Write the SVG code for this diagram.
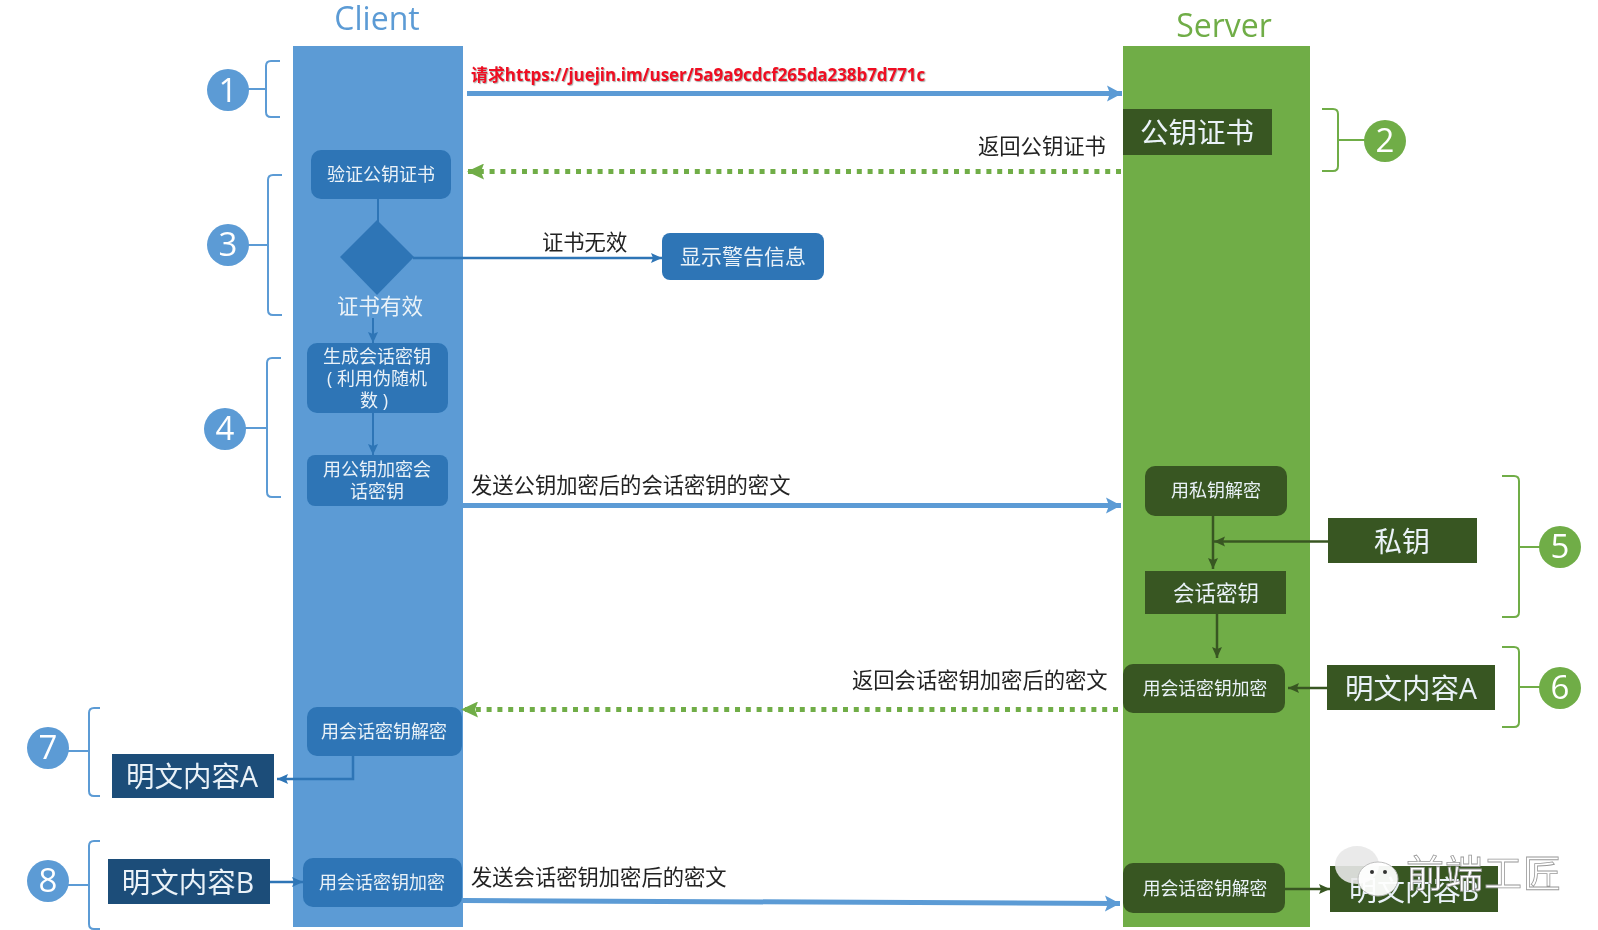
<svg xmlns="http://www.w3.org/2000/svg" width="1598" height="930" viewBox="0 0 1598 930">
<style>
text{font-family:"Open Sans","Noto Sans CJK SC",sans-serif;text-anchor:middle}
.w{fill:#eaf2f8}.k{fill:#222;text-anchor:start;font-size:21.300px}
.bb{fill:#2e75b6}.nb{fill:#1f4e79}.ng{fill:#385723}
.br{fill:none;stroke-width:2}.bl{stroke:#5b9bd5}.gr{stroke:#70ad47}
.cb{fill:#5b9bd5}.cg{fill:#70ad47}.n{fill:#fff;font-size:33px}
.a{fill:none}
</style>
<defs>
<filter id="s" x="-2%" y="-2%" width="104%" height="104%"><feGaussianBlur stdDeviation="0.6"/></filter>
<marker id="mb" markerUnits="userSpaceOnUse" markerWidth="16" markerHeight="18" refX="15" refY="9" orient="auto"><path d="M0 1L15 9L0 17L3 9Z" fill="#5b9bd5"/></marker>
<marker id="md" markerUnits="userSpaceOnUse" markerWidth="12" markerHeight="12" refX="11" refY="6" orient="auto"><path d="M0 1L11 6L0 11L2 6Z" fill="#2e75b6"/></marker>
<marker id="mg" markerUnits="userSpaceOnUse" markerWidth="18" markerHeight="16" refX="17" refY="8" orient="auto"><path d="M0 0L17 8L0 16L3 8Z" fill="#70ad47"/></marker>
<marker id="mk" markerUnits="userSpaceOnUse" markerWidth="12" markerHeight="12" refX="11" refY="6" orient="auto"><path d="M0 1L11 6L0 11L2 6Z" fill="#385723"/></marker>
</defs>
<rect width="1598" height="930" fill="#fff"/>
<g filter="url(#s)">
<g id="client-lane"><rect x="293" y="46" width="170" height="881" fill="#5b9bd5"/><text x="377" y="30" font-size="32" fill="#5b9bd5">Client</text></g>
<g id="server-lane"><rect x="1123" y="46" width="187" height="881" fill="#70ad47"/><text x="1224" y="37" font-size="32" fill="#70ad47">Server</text></g>

<g id="connectors">
<path d="M467 93.500H1122" stroke="#5b9bd5" stroke-width="5" class="a" marker-end="url(#mb)"/>
<path d="M1121 171.500H467" stroke="#70ad47" stroke-width="5" stroke-dasharray="5 5.800" class="a" marker-end="url(#mg)"/>
<path d="M378 199V222" stroke="#2e75b6" stroke-width="2" class="a"/>
<path d="M413 258H662" stroke="#2e75b6" stroke-width="2.500" class="a" marker-end="url(#md)"/>
<path d="M373 318V343" stroke="#2e75b6" stroke-width="2" class="a" marker-end="url(#md)"/>
<path d="M373 413V455" stroke="#2e75b6" stroke-width="2" class="a" marker-end="url(#md)"/>
<path d="M463 505.500H1121" stroke="#5b9bd5" stroke-width="5" class="a" marker-end="url(#mb)"/>
<path d="M1213 516V569" stroke="#385723" stroke-width="2.500" class="a" marker-end="url(#mk)"/>
<path d="M1328 541.500H1214" stroke="#385723" stroke-width="2.500" class="a" marker-end="url(#mk)"/>
<path d="M1217 614V658" stroke="#385723" stroke-width="2.500" class="a" marker-end="url(#mk)"/>
<path d="M1327 688H1288" stroke="#385723" stroke-width="2.500" class="a" marker-end="url(#mk)"/>
<path d="M1118 709.500H461" stroke="#70ad47" stroke-width="5" stroke-dasharray="5 5.800" class="a" marker-end="url(#mg)"/>
<path d="M353 756V779H277" stroke="#2e75b6" stroke-width="2.500" class="a" marker-end="url(#md)"/>
<path d="M270 882H303" stroke="#2e75b6" stroke-width="2.500" class="a" marker-end="url(#md)"/>
<path d="M462 900.500L1120 903.500" stroke="#5b9bd5" stroke-width="5" class="a" marker-end="url(#mb)"/>
<path d="M1285 889H1330" stroke="#385723" stroke-width="2.500" class="a" marker-end="url(#mk)"/>
</g>

<g id="n1"><path class="br bl" d="M280 61H271Q266 61 266 66V112Q266 117 271 117H280M266 89H245"/><circle class="cb" cx="228" cy="90" r="21"/><text class="n" x="228" y="102">1</text></g>
<g id="n2"><path class="br gr" d="M1322 109H1333Q1338 109 1338 114V166Q1338 171 1333 171H1322M1338 140H1366"/><circle class="cg" cx="1385" cy="141" r="21"/><text class="n" x="1385" y="152">2</text></g>
<g id="n3"><path class="br bl" d="M282 175H273Q268 175 268 180V310Q268 315 273 315H282M268 245H245"/><circle class="cb" cx="228" cy="245" r="21"/><text class="n" x="228" y="256">3</text></g>
<g id="n4"><path class="br bl" d="M281 358H272Q267 358 267 363V492Q267 497 272 497H281M267 428H243"/><circle class="cb" cx="225" cy="429" r="21"/><text class="n" x="225" y="440">4</text></g>
<g id="n5"><path class="br gr" d="M1502 476H1514Q1519 476 1519 481V612Q1519 617 1514 617H1502M1519 547H1541"/><circle class="cg" cx="1560" cy="547" r="21"/><text class="n" x="1560" y="558">5</text></g>
<g id="n6"><path class="br gr" d="M1502 647H1514Q1519 647 1519 652V722Q1519 727 1514 727H1502M1519 687H1541"/><circle class="cg" cx="1560" cy="688" r="21"/><text class="n" x="1560" y="699">6</text></g>
<g id="n7"><path class="br bl" d="M100 708H94Q89 708 89 713V791Q89 796 94 796H100M89 751H67"/><circle class="cb" cx="48" cy="748" r="21"/><text class="n" x="48" y="759">7</text></g>
<g id="n8"><path class="br bl" d="M100 841H94Q89 841 89 846V924Q89 929 94 929H100M89 885H67"/><circle class="cb" cx="48" cy="881" r="21"/><text class="n" x="48" y="892">8</text></g>

<g id="verify-cert"><rect class="bb" x="311" y="150" width="140" height="49" rx="10"/><text class="w" x="381" y="181" font-size="18">验证公钥证书</text></g>
<g id="decision"><path class="bb" d="M377 220L414 257L377 295L340 257Z"/></g>
<g id="cert-valid"><text class="w" x="380" y="314" font-size="21.500">证书有效</text></g>
<g id="gen-key"><rect class="bb" x="307" y="343" width="141" height="70" rx="10"/><text class="w" x="377" y="363" font-size="18">生成会话密钥</text><text class="w" x="377" y="385" font-size="18">( 利用伪随机</text><text class="w" x="374" y="407" font-size="18">数 )</text></g>
<g id="encrypt-key"><rect class="bb" x="307" y="455" width="141" height="51" rx="8"/><text class="w" x="377" y="476" font-size="18">用公钥加密会</text><text class="w" x="377" y="498" font-size="18">话密钥</text></g>
<g id="warning"><rect class="bb" x="662" y="233" width="162" height="47" rx="8"/><text class="w" x="743" y="264" font-size="21">显示警告信息</text></g>
<g id="client-decrypt"><rect class="bb" x="307" y="707" width="155" height="49" rx="10"/><text class="w" x="384" y="738" font-size="18">用会话密钥解密</text></g>
<g id="client-encrypt"><rect class="bb" x="303" y="858" width="159" height="49" rx="10"/><text class="w" x="382" y="889" font-size="18">用会话密钥加密</text></g>
<g id="plain-a-client"><rect class="nb" x="112" y="754" width="162" height="44"/><text class="w" x="192" y="787" font-size="28.500">明文内容A</text></g>
<g id="plain-b-client"><rect class="nb" x="108" y="859" width="162" height="45"/><text class="w" x="188" y="893" font-size="28.500">明文内容B</text></g>

<g id="public-cert"><rect class="ng" x="1123" y="109" width="149" height="46"/><text class="w" x="1197" y="143" font-size="28.500">公钥证书</text></g>
<g id="private-decrypt"><rect class="ng" x="1145" y="466" width="142" height="50" rx="10"/><text class="w" x="1216" y="497" font-size="18">用私钥解密</text></g>
<g id="private-key"><rect class="ng" x="1328" y="518" width="149" height="45"/><text class="w" x="1402" y="552" font-size="28">私钥</text></g>
<g id="session-key"><rect class="ng" x="1145" y="571" width="141" height="43"/><text class="w" x="1216" y="601" font-size="21.500">会话密钥</text></g>
<g id="server-encrypt"><rect class="ng" x="1123" y="664" width="162" height="49" rx="10"/><text class="w" x="1205" y="695" font-size="17.800">用会话密钥加密</text></g>
<g id="plain-a-server"><rect class="ng" x="1327" y="665" width="168" height="45"/><text class="w" x="1411" y="699" font-size="28.500">明文内容A</text></g>
<g id="server-decrypt"><rect class="ng" x="1123" y="863" width="162" height="50" rx="10"/><text class="w" x="1205" y="895" font-size="17.800">用会话密钥解密</text></g>
<g id="plain-b-server"><rect class="ng" x="1330" y="866" width="168" height="46"/><text class="w" x="1414" y="901" font-size="28">明文内容B</text></g>

<g id="labels">
<text x="471" y="81" style="text-anchor:start;font-weight:bold;text-shadow:1px 1px 1px #aaa" font-size="16.900" fill="#f01020">请求https://juejin.im/user/5a9a9cdcf265da238b7d771c</text>
<text class="k" x="978" y="154">返回公钥证书</text>
<text class="k" x="542" y="250">证书无效</text>
<text class="k" x="471" y="493">发送公钥加密后的会话密钥的密文</text>
<text class="k" x="852" y="688">返回会话密钥加密后的密文</text>
<text class="k" x="471" y="885">发送会话密钥加密后的密文</text>
</g>

<g id="watermark">
<ellipse cx="1357" cy="865" rx="22" ry="19" fill="#e8e8e8" opacity=".9"/>
<ellipse cx="1378" cy="879" rx="20" ry="17" fill="#fff" opacity=".95" stroke="#bbb"/>
<circle cx="1372" cy="872" r="2" fill="#333"/><circle cx="1385" cy="872" r="2" fill="#333"/>
<text x="1484" y="887" font-size="38" fill="#fff" stroke="#999" stroke-width=".8" style="letter-spacing:1px">前端工匠</text>
</g>
</g>
</svg>
